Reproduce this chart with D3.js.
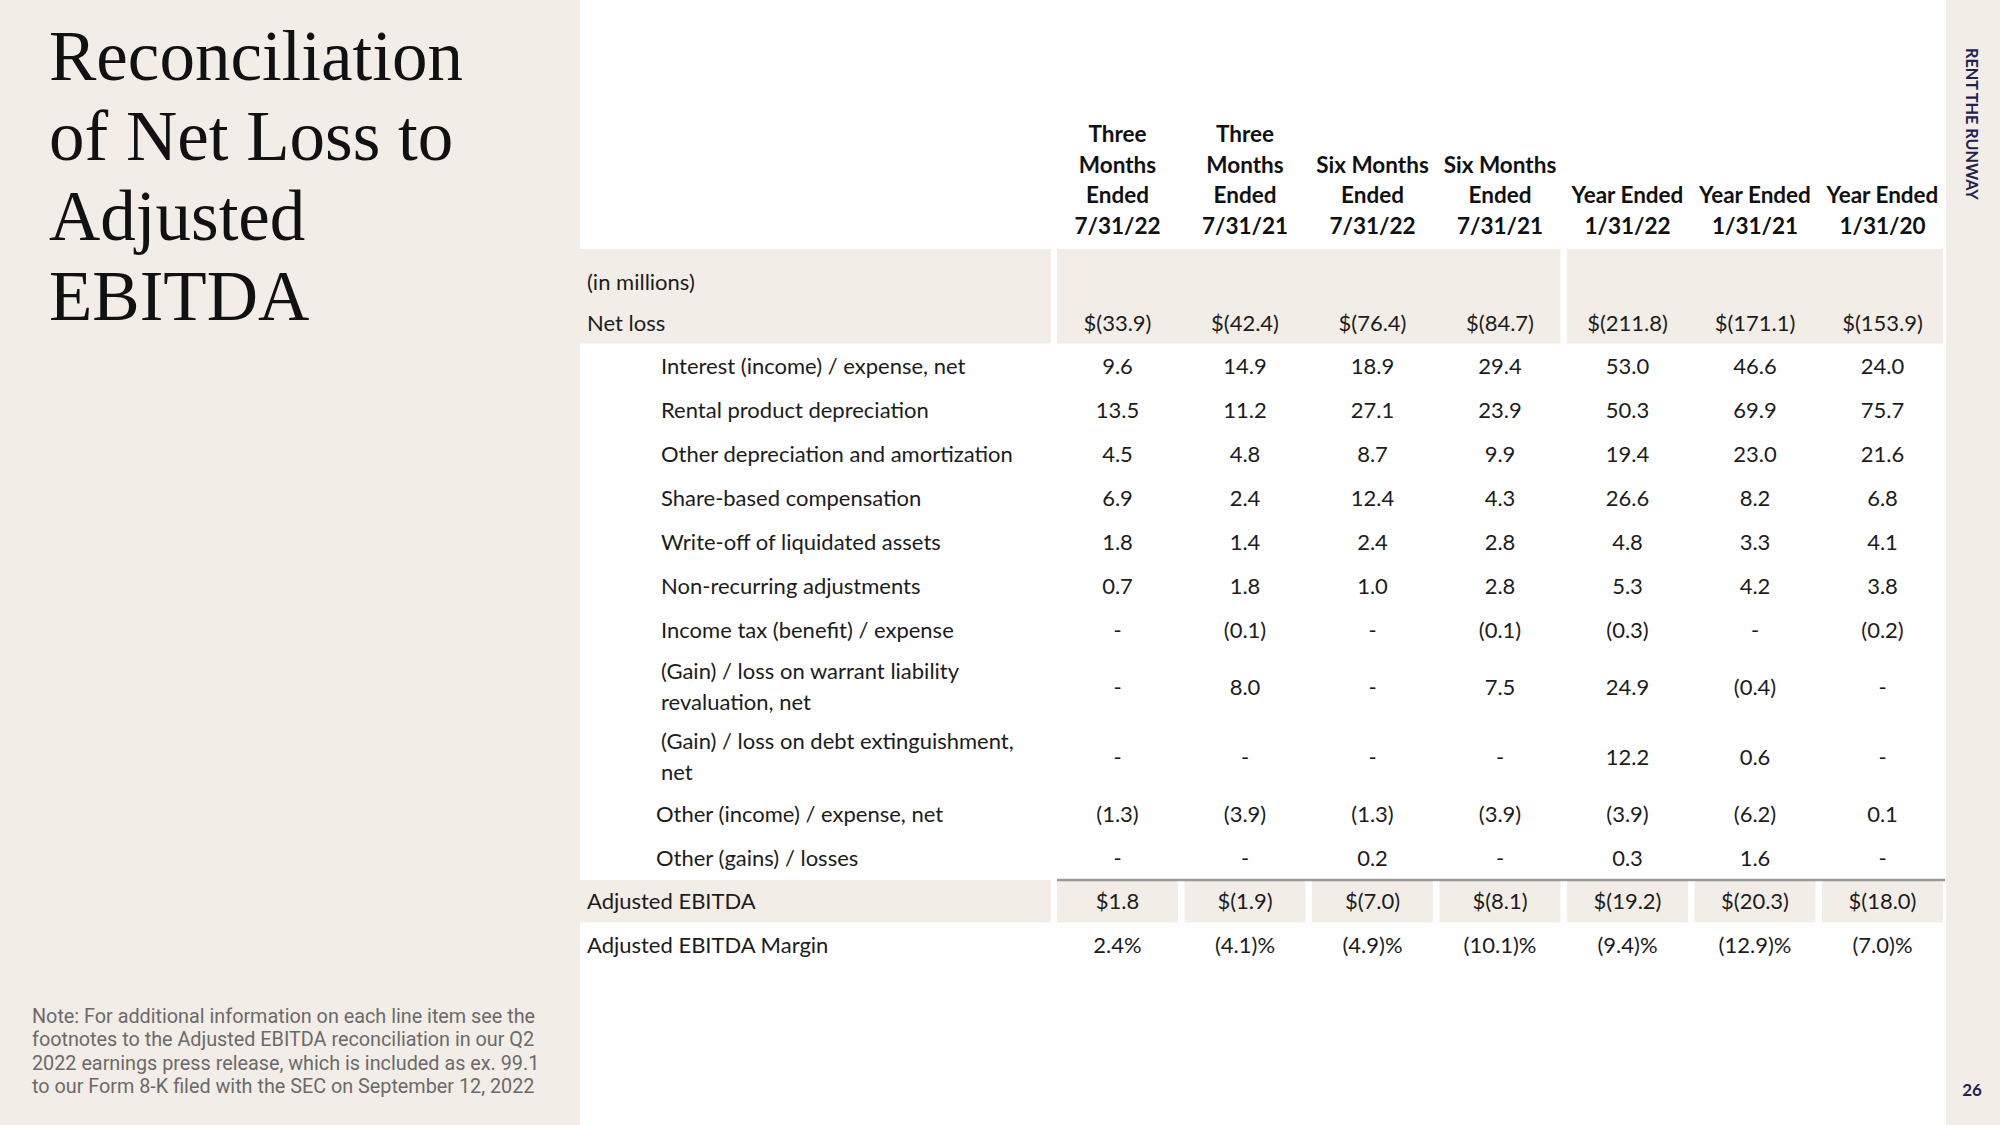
<!DOCTYPE html>
<html>
<head>
<meta charset="utf-8">
<script src="https://cdn.jsdelivr.net/npm/d3@7"></script>
<style>
  html, body { margin: 0; padding: 0; background: #ffffff; }
  svg { display: block; }
</style>
</head>
<body>
<svg id="chart" width="2000" height="1125"></svg>
<script>
// ---------- DATA ----------
const titleLines = ["Reconciliation", "of Net Loss to", "Adjusted", "EBITDA"];
const noteLines = [
  "Note: For additional information on each line item see the",
  "footnotes to the Adjusted EBITDA reconciliation in our Q2",
  "2022 earnings press release, which is included as ex. 99.1",
  "to our Form 8-K filed with the SEC on September 12, 2022"
];
const brandText = "RENT THE RUNWAY";
const pageNumber = "26";

const columnKeys = ["q22", "q21", "h22", "h21", "fy22", "fy21", "fy20"];
const columnHeaders = [
  ["Three", "Months", "Ended", "7/31/22"],
  ["Three", "Months", "Ended", "7/31/21"],
  ["Six Months", "Ended", "7/31/22"],
  ["Six Months", "Ended", "7/31/21"],
  ["Year Ended", "1/31/22"],
  ["Year Ended", "1/31/21"],
  ["Year Ended", "1/31/20"]
];

const rowLabels = [
  ["(in millions)"],
  ["Net loss"],
  ["Interest (income) / expense, net"],
  ["Rental product depreciation"],
  ["Other depreciation and amortization"],
  ["Share-based compensation"],
  ["Write-off of liquidated assets"],
  ["Non-recurring adjustments"],
  ["Income tax (benefit) / expense"],
  ["(Gain) / loss on warrant liability", "revaluation, net"],
  ["(Gain) / loss on debt extinguishment,", "net"],
  ["Other (income) / expense, net"],
  ["Other (gains) / losses"],
  ["Adjusted EBITDA"],
  ["Adjusted EBITDA Margin"]
];
// hierarchy level of each row: 0 = total, 1 = other items, 2 = adjustment items
const rowLevels = [0, 0, 2, 2, 2, 2, 2, 2, 2, 2, 2, 1, 1, 0, 0];
// value format of each row
const rowFormats = ["none", "currency", "num", "num", "num", "num", "num", "num", "num", "num", "num", "num", "num", "currency", "percent"];

const inMillions           = [null, null, null, null, null, null, null];
const netLoss              = [-33.9, -42.4, -76.4, -84.7, -211.8, -171.1, -153.9];
const interestExpense      = [9.6, 14.9, 18.9, 29.4, 53.0, 46.6, 24.0];
const rentalDepreciation   = [13.5, 11.2, 27.1, 23.9, 50.3, 69.9, 75.7];
const otherDepreciation    = [4.5, 4.8, 8.7, 9.9, 19.4, 23.0, 21.6];
const shareBasedComp       = [6.9, 2.4, 12.4, 4.3, 26.6, 8.2, 6.8];
const writeOffAssets       = [1.8, 1.4, 2.4, 2.8, 4.8, 3.3, 4.1];
const nonRecurring         = [0.7, 1.8, 1.0, 2.8, 5.3, 4.2, 3.8];
const incomeTax            = [null, -0.1, null, -0.1, -0.3, null, -0.2];
const warrantLiability     = [null, 8.0, null, 7.5, 24.9, -0.4, null];
const debtExtinguishment   = [null, null, null, null, 12.2, 0.6, null];
const otherIncomeExpense   = [-1.3, -3.9, -1.3, -3.9, -3.9, -6.2, 0.1];
const otherGainsLosses     = [null, null, 0.2, null, 0.3, 1.6, null];
const adjustedEbitda       = [1.8, -1.9, -7.0, -8.1, -19.2, -20.3, -18.0];
const adjustedEbitdaMargin = [2.4, -4.1, -4.9, -10.1, -9.4, -12.9, -7.0];

const rowValues = [inMillions, netLoss, interestExpense, rentalDepreciation, otherDepreciation,
  shareBasedComp, writeOffAssets, nonRecurring, incomeTax, warrantLiability, debtExtinguishment,
  otherIncomeExpense, otherGainsLosses, adjustedEbitda, adjustedEbitdaMargin];

// ---------- STYLE ----------
const BEIGE = "#f3ede7";
const TEXT = "#1c1c1c";
const NAVY = "#1e2350";
const SANS = "Lato, 'Open Sans', sans-serif";
const FS = 22;

const svg = d3.select("#chart");

// panels
svg.append("rect").attr("x", 0).attr("y", 0).attr("width", 580).attr("height", 1125).attr("fill", BEIGE);
svg.append("rect").attr("x", 1946).attr("y", 0).attr("width", 54).attr("height", 1125).attr("fill", BEIGE);

// title
svg.append("g").selectAll("text").data(titleLines).join("text")
  .attr("x", 49)
  .attr("y", (d, i) => 80 + i * 80)
  .attr("font-family", "'Liberation Serif', 'DejaVu Serif', serif")
  .attr("font-size", 71)
  .attr("fill", "#111")
  .text(d => d);

// note
svg.append("g").selectAll("text").data(noteLines).join("text")
  .attr("x", 32)
  .attr("y", (d, i) => 1023 + i * 23.3)
  .attr("font-family", "Roboto, sans-serif")
  .attr("font-size", 19.8)
  .attr("fill", "#6a6a6a")
  .text(d => d);

// brand + page number
svg.append("text")
  .attr("transform", "translate(1966,48) rotate(90)")
  .attr("font-family", SANS)
  .attr("font-weight", 700)
  .attr("font-size", 16.2)
  .attr("fill", NAVY)
  .text(brandText);
svg.append("text")
  .attr("x", 1972).attr("y", 1096)
  .attr("text-anchor", "middle")
  .attr("font-family", SANS)
  .attr("font-weight", 700)
  .attr("font-size", 17)
  .attr("fill", NAVY)
  .text(pageNumber);

// ---------- TABLE ----------
const x = d3.scaleBand().domain(columnKeys).range([1057, 1943]).paddingInner(6.5 / 127.5).paddingOuter(0);

// row layout in "line units"
const rowUnits = rowLabels.map(l => l.length > 1 ? 1.6 : 1);
const rowStart = [];
rowUnits.reduce((acc, u, i) => { rowStart[i] = acc; return acc + u; }, 0);
const y = d3.scaleLinear().domain([0, 1]).range([256.9, 256.9 + 43.85]);
const rowCenter = i => y(rowStart[i] + rowUnits[i] / 2);

const labelLeft = 580, labelRight = 1051;

// top beige band (in millions + net loss)
const bandTop = 249, bandBottom = y(rowStart[2]) - 1;
svg.append("rect").attr("x", labelLeft).attr("y", bandTop).attr("width", labelRight - labelLeft)
  .attr("height", bandBottom - bandTop).attr("fill", BEIGE);
const groups = [[0, 3], [4, 6]];
svg.append("g").selectAll("rect").data(groups).join("rect")
  .attr("x", d => x(columnKeys[d[0]]))
  .attr("y", bandTop)
  .attr("width", d => x(columnKeys[d[1]]) + x.bandwidth() - x(columnKeys[d[0]]))
  .attr("height", bandBottom - bandTop)
  .attr("fill", BEIGE);

// adjusted EBITDA band
const ebitdaIdx = 13;
const eTop = y(rowStart[ebitdaIdx]) + 0.5, eBottom = y(rowStart[ebitdaIdx] + 1) - 1;
svg.append("rect").attr("x", labelLeft).attr("y", eTop).attr("width", labelRight - labelLeft)
  .attr("height", eBottom - eTop).attr("fill", BEIGE);
svg.append("g").selectAll("rect").data(columnKeys).join("rect")
  .attr("x", d => x(d)).attr("y", eTop).attr("width", x.bandwidth()).attr("height", eBottom - eTop)
  .attr("fill", BEIGE);
svg.append("line")
  .attr("x1", x(columnKeys[0])).attr("x2", x(columnKeys[6]) + x.bandwidth() + 2)
  .attr("y1", eTop).attr("y2", eTop)
  .attr("stroke", "#999").attr("stroke-width", 2.5);

// headers
const headerBase = 234, headerStep = 30.7;
columnHeaders.forEach((lines, c) => {
  svg.append("g").selectAll("text").data(lines).join("text")
    .attr("x", x(columnKeys[c]) + x.bandwidth() / 2)
    .attr("y", (d, i) => headerBase - (lines.length - 1 - i) * headerStep)
    .attr("text-anchor", "middle")
    .attr("font-family", SANS)
    .attr("font-weight", 700)
    .attr("font-size", 22.5)
    .attr("fill", "#111")
    .text(d => d);
});

// row labels
const indentX = [587, 656, 661];
rowLabels.forEach((lines, r) => {
  const cy = rowCenter(r) + (r === 0 ? 3 : 0);
  svg.append("g").selectAll("text").data(lines).join("text")
    .attr("x", indentX[rowLevels[r]])
    .attr("y", (d, i) => cy + (i - (lines.length - 1) / 2) * 31.5)
    .attr("dy", "0.36em")
    .attr("font-family", SANS)
    .attr("font-size", FS)
    .attr("fill", TEXT)
    .text(d => d);
});

// values
const f1 = d3.format(".1f");
function fmt(v, kind) {
  if (kind === "none") return "";
  if (v == null) return "-";
  const a = f1(Math.abs(v));
  if (kind === "currency") return v < 0 ? "$(" + a + ")" : "$" + a;
  if (kind === "percent") return v < 0 ? "(" + a + ")%" : a + "%";
  return v < 0 ? "(" + a + ")" : a;
}
rowValues.forEach((vals, r) => {
  svg.append("g").selectAll("text").data(vals).join("text")
    .attr("x", (d, i) => x(columnKeys[i]) + x.bandwidth() / 2)
    .attr("y", rowCenter(r))
    .attr("dy", "0.36em")
    .attr("text-anchor", "middle")
    .attr("font-family", SANS)
    .attr("font-size", FS)
    .attr("fill", TEXT)
    .text(d => fmt(d, rowFormats[r]));
});
</script>
</body>
</html>
